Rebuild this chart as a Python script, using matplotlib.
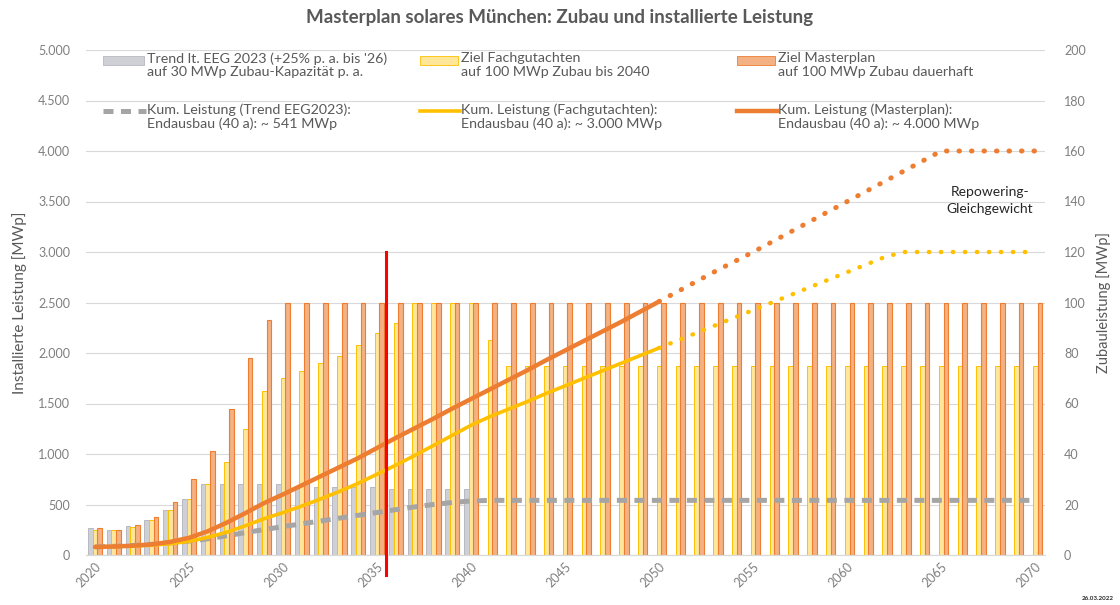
import matplotlib
matplotlib.use("Agg")
import matplotlib.pyplot as plt
from matplotlib.lines import Line2D
from matplotlib.patches import Rectangle
from matplotlib.ticker import FuncFormatter, MultipleLocator
import numpy as np

plt.rcParams["font.family"] = ["Lato", "DejaVu Sans"]

years = list(range(2020, 2071))

# Zubau pro Jahr [MWp] (rechte Achse)
zubau_trend = [10.5, 10, 11.5, 14, 18, 22, 28, 28, 28, 28, 28, 27, 27, 27, 27, 27,
               26, 26, 26, 26, 26] + [0] * 30
zubau_fach = [10, 10, 11, 14, 18, 22, 28, 37, 50, 65, 70, 73, 76, 79, 83, 88,
              92, 100, 100, 100, 100, 85] + [75] * 29
zubau_master = [10.5, 10, 12, 15, 21, 30, 41, 58, 78, 93] + [100] * 41

# Kumulierte Leistung [MWp] (linke Achse)
kum_trend = [80, 86, 94, 105, 120, 138, 160, 190, 222, 252, 281, 309, 337, 365,
             393, 421, 449, 476, 500, 520, 535, 541] + [541] * 29
kum_fach = [80, 83, 88, 97, 112, 135, 175, 225, 290, 360, 420, 485, 555, 630,
            710, 800, 890, 985, 1085, 1185, 1285, 1370, 1445, 1520, 1600, 1675,
            1750, 1825, 1900, 1975, 2050, 2125, 2200, 2275, 2350, 2425, 2500,
            2575, 2650, 2725, 2800, 2875, 2950, 3000] + [3000] * 7
kum_master = [80, 84, 92, 105, 130, 170, 235, 320, 415, 515, 600, 690, 780, 870,
              960, 1060, 1160, 1255, 1350, 1450, 1545, 1640, 1735, 1830, 1930,
              2025, 2120, 2215, 2310, 2410, 2510, 2610, 2710, 2810, 2905, 3000,
              3100, 3200, 3300, 3400, 3500, 3600, 3700, 3800, 3900, 4000] + [4000] * 5

stichjahr = 2035.45     # rote Markierung
prognose_ab = 2050      # ab hier gepunktet

labels_bars = ["Trend lt. EEG 2023 (+25% p. a. bis '26)\nauf 30 MWp Zubau-Kapazität p. a.",
               "Ziel Fachgutachten\nauf 100 MWp Zubau bis 2040",
               "Ziel Masterplan\nauf 100 MWp Zubau dauerhaft"]
labels_lines = ["Kum. Leistung (Trend EEG2023):\nEndausbau (40 a): ~ 541 MWp",
                "Kum. Leistung (Fachgutachten):\nEndausbau (40 a): ~ 3.000 MWp",
                "Kum. Leistung (Masterplan):\nEndausbau (40 a): ~ 4.000 MWp"]

GRAY_F, GRAY_E = "#CFCFD6", "#B8B8C2"
YEL_F, YEL_E = "#FFE699", "#FFC000"
ORA_F, ORA_E = "#F4B183", "#ED7D31"
LINE_GRAY = "#A5A5A5"
TXT = "#595959"
TICK = "#7F7F7F"

W, H = 1120, 605
fig = plt.figure(figsize=(W / 100, H / 100), dpi=100)


def fpos(x, y):
    return x / W, 1 - y / H


ax = fig.add_axes([85.6 / W, 50 / H, 959 / W, 505 / H])
ax2 = ax.twinx()
ax.set_zorder(ax2.get_zorder() + 1)
ax.patch.set_visible(False)

x = np.array(years, dtype=float)
bw = 0.25
ax2.bar(x - bw, zubau_trend, bw, color=GRAY_F, edgecolor=GRAY_E, linewidth=0.7, zorder=2)
ax2.bar(x, zubau_fach, bw, color=YEL_F, edgecolor=YEL_E, linewidth=0.7, zorder=2)
ax2.bar(x + bw, zubau_master, bw, color=ORA_F, edgecolor=ORA_E, linewidth=0.8, zorder=2)

ax2.set_ylim(0, 200)
ax2.yaxis.set_major_locator(MultipleLocator(20))
ax2.grid(axis="y", color="#D9D9D9", linewidth=0.8, zorder=0)
ax2.set_axisbelow(True)
ax2.set_ylabel("Zubauleistung [MWp]", color=TXT, fontsize=10.5, labelpad=7)

# kumulierte Linien
i_end = years.index(prognose_ab) + 1
ax.plot(x, kum_trend, color=LINE_GRAY, linewidth=3.6, linestyle=(0, (2.0, 1.5)),
        dash_capstyle="butt", zorder=3)
ax.plot(x[:i_end], kum_fach[:i_end], color="#FFC000", linewidth=2.6, zorder=4,
        solid_capstyle="round")
ax.plot(x[i_end - 1:], kum_fach[i_end - 1:], color="#FFC000", linewidth=3.2,
        linestyle=(0, (0.1, 2.6)), dash_capstyle="round", zorder=4)
ax.plot(x[:i_end], kum_master[:i_end], color="#ED7D31", linewidth=3.2, zorder=5,
        solid_capstyle="round")
ax.plot(x[i_end - 1:], kum_master[i_end - 1:], color="#ED7D31", linewidth=3.6,
        linestyle=(0, (0.1, 2.4)), dash_capstyle="round", zorder=5)

ax.plot([stichjahr, stichjahr], [3000, -200], color="#FF0000", linewidth=2.2,
        clip_on=False, zorder=6)

ax.text(2067.6, 3510, "Repowering-\nGleichgewicht", ha="center", va="center",
        fontsize=10, color="#262626", linespacing=1.45)

ax.set_xlim(2019.5, 2070.5)
ax.set_ylim(0, 5000)
ax.yaxis.set_major_locator(MultipleLocator(500))
ax.yaxis.set_major_formatter(FuncFormatter(lambda v, p: f"{v:,.0f}".replace(",", ".")))
ax.set_xticks(years[::5])
ax.set_xticklabels([str(y) for y in years[::5]], rotation=45, ha="right",
                   rotation_mode="anchor")
ax.set_ylabel("Installierte Leistung [MWp]", color=TXT, fontsize=11, labelpad=8)

for a in (ax, ax2):
    for s in ("top", "left", "right"):
        a.spines[s].set_visible(False)
    a.spines["bottom"].set_color("#D9D9D9")
    a.tick_params(length=0, colors=TICK, labelsize=9)
ax.tick_params(axis="y", pad=11)
ax2.tick_params(axis="y", pad=14)
ax.tick_params(axis="x", pad=4)

fig.text(0.5, 1 - 18 / H, "Masterplan solares München: Zubau und installierte Leistung",
         ha="center", va="center", fontsize=13.5, fontweight="bold", color=TXT)

# Legende, zwei Zeilen zu je drei Einträgen
cols = [(103, 147, GRAY_F, GRAY_E), (420, 461, YEL_F, YEL_E), (737, 778, ORA_F, ORA_E)]
line_styles = [dict(color=LINE_GRAY, linewidth=3.6, linestyle=(0, (2.0, 1.5))),
               dict(color="#FFC000", linewidth=2.6),
               dict(color="#ED7D31", linewidth=3.2)]
for (x0, xt, fc, ec), lb_bar, lb_line, ls in zip(cols, labels_bars, labels_lines, line_styles):
    rx, ry = fpos(x0, 65)
    rx2, _ = fpos(xt - 3, 65)
    fig.patches.append(Rectangle((rx, ry), rx2 - rx, 9 / H, transform=fig.transFigure,
                                 facecolor=fc, edgecolor=ec, linewidth=0.6))
    lx0, ly = fpos(x0, 111)
    lx1, _ = fpos(xt - 1, 111)
    fig.add_artist(Line2D([lx0, lx1], [ly, ly], transform=fig.transFigure, **ls))
    tx, ty = fpos(xt, 52)
    fig.text(tx, ty, lb_bar, ha="left", va="top", fontsize=10.3, color=TXT, linespacing=1.15)
    tx, ty = fpos(xt, 103)
    fig.text(tx, ty, lb_line, ha="left", va="top", fontsize=10.3, color=TXT, linespacing=1.15)

fig.text(1 - 6 / W, 1 - 598 / H, "26.03.2022", ha="right", va="center",
         fontsize=4.5, fontweight="bold", color="#262626")

fig.savefig("out.png", dpi=100)
